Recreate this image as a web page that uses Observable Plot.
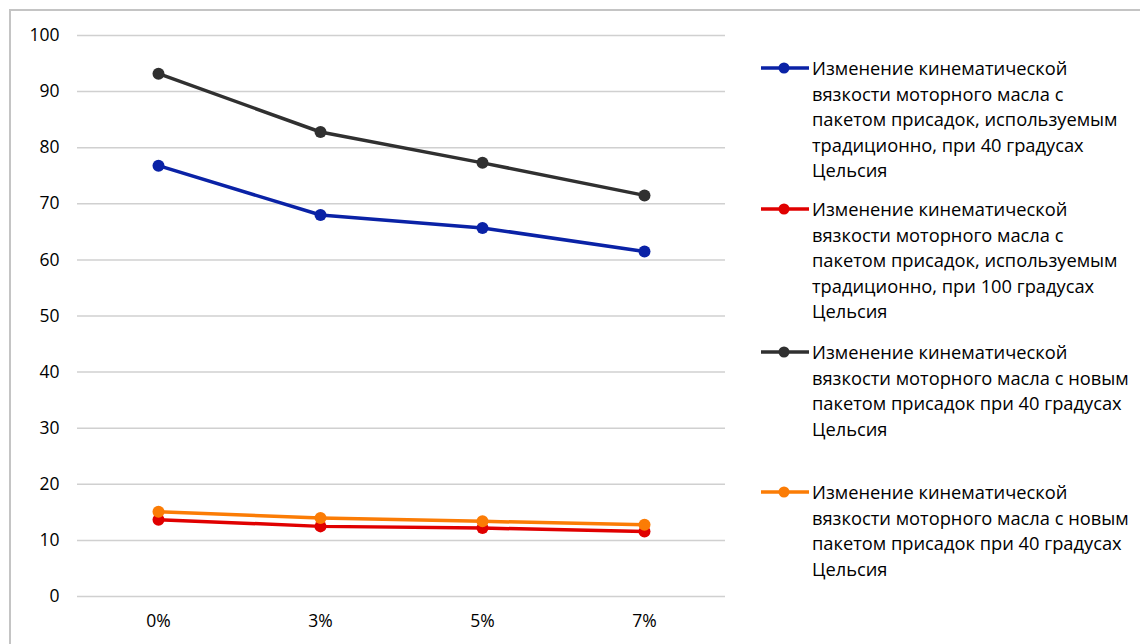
<!DOCTYPE html>
<html>
<head>
<meta charset="utf-8">
<script src="https://cdn.jsdelivr.net/npm/d3@7"></script>
<script src="https://cdn.jsdelivr.net/npm/@observablehq/plot@0.6"></script>
<style>
  html, body { margin: 0; padding: 0; background: #fff; }
  #wrap { position: relative; width: 1140px; height: 644px; overflow: hidden; background: #fff;
          font-family: "Open Sans", "Noto Sans", sans-serif; }
  #frame { position: absolute; left: 9px; top: 9px; width: 1160px; height: 660px;
           border: 2px solid #c4c4c4; box-sizing: border-box; }
  #chart { position: absolute; left: 0; top: 0; }
  .entry { position: absolute; left: 760px; display: flex; align-items: flex-start; }
  .entry svg { flex: none; }
  .entry .txt { font-size: 18.3px; line-height: 25.6px; color: #000; margin-left: 2px; white-space: nowrap; }
</style>
</head>
<body>
<div id="wrap">
  <div id="frame"></div>
  <div id="chart"></div>
  <div id="legend"></div>
</div>
<script>
// Additive share (x axis categories)
const categories = ["0%", "3%", "5%", "7%"];

// Kinematic viscosity, mm²/s
const traditional40 = [76.8, 68.0, 65.7, 61.5];
const traditional100 = [13.7, 12.5, 12.2, 11.6];
const newPackage40 = [93.2, 82.8, 77.3, 71.5];
const newPackageSecond = [15.1, 14.0, 13.4, 12.8];

const yTicks = [0, 10, 20, 30, 40, 50, 60, 70, 80, 90, 100];

const seriesNames = [
  ["Изменение кинематической", "вязкости моторного масла с", "пакетом присадок, используемым", "традиционно, при 40 градусах", "Цельсия"],
  ["Изменение кинематической", "вязкости моторного масла с", "пакетом присадок, используемым", "традиционно, при 100 градусах", "Цельсия"],
  ["Изменение кинематической", "вязкости моторного масла с новым", "пакетом присадок при 40 градусах", "Цельсия"],
  ["Изменение кинематической", "вязкости моторного масла с новым", "пакетом присадок при 40 градусах", "Цельсия"]
];
const seriesValues = [traditional40, traditional100, newPackage40, newPackageSecond];
const seriesColors = ["#0a22a6", "#e00000", "#303030", "#fb7c05"];
const legendTops = [55, 196, 339, 479];

const rows = [];
seriesValues.forEach((vals, s) => {
  vals.forEach((v, i) => rows.push({series: s, cat: categories[i], value: v}));
});

const marks = [
  Plot.ruleY(yTicks, {stroke: "#d0d0d0", strokeWidth: 1.5})
];
seriesValues.forEach((vals, s) => {
  const data = rows.filter(d => d.series === s);
  marks.push(Plot.line(data, {x: "cat", y: "value", stroke: seriesColors[s], strokeWidth: 3.5}));
  marks.push(Plot.dot(data, {x: "cat", y: "value", fill: seriesColors[s], r: 6}));
});

const chart = Plot.plot({
  width: 740,
  height: 644,
  marginLeft: 77,
  marginRight: 15,
  marginTop: 35,
  marginBottom: 48,
  style: {fontFamily: "'Open Sans', 'Noto Sans', sans-serif", fontSize: "17.5px", color: "#000", background: "transparent"},
  x: {type: "point", domain: categories, padding: 0.5, label: null, tickSize: 0, tickPadding: 18},
  y: {domain: [0, 100], ticks: yTicks, label: null, tickSize: 0, tickPadding: 18},
  marks
});
document.getElementById("chart").appendChild(chart);

// Legend: line-and-marker swatch followed by wrapped series name
const legend = document.getElementById("legend");
seriesNames.forEach((lines, s) => {
  const entry = document.createElement("div");
  entry.className = "entry";
  entry.style.top = legendTops[s] + "px";
  const ns = "http://www.w3.org/2000/svg";
  const sw = document.createElementNS(ns, "svg");
  sw.setAttribute("width", 50);
  sw.setAttribute("height", 26);
  const ln = document.createElementNS(ns, "line");
  ln.setAttribute("x1", 1); ln.setAttribute("x2", 49);
  ln.setAttribute("y1", 13); ln.setAttribute("y2", 13);
  ln.setAttribute("stroke", seriesColors[s]); ln.setAttribute("stroke-width", 3.5);
  const c = document.createElementNS(ns, "circle");
  c.setAttribute("cx", 24); c.setAttribute("cy", 13); c.setAttribute("r", 5.5);
  c.setAttribute("fill", seriesColors[s]);
  sw.appendChild(ln); sw.appendChild(c);
  const txt = document.createElement("div");
  txt.className = "txt";
  txt.innerHTML = lines.join("<br>");
  entry.appendChild(sw);
  entry.appendChild(txt);
  legend.appendChild(entry);
});
</script>
</body>
</html>
